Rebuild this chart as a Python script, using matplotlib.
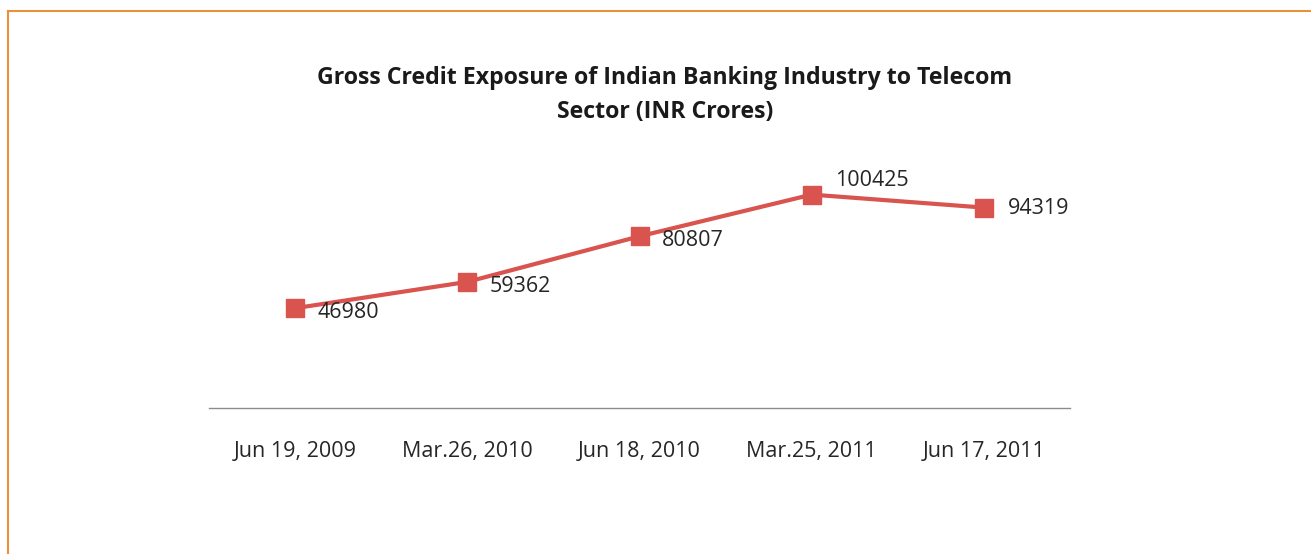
import matplotlib.pyplot as plt
from matplotlib.lines import Line2D

dates = ['Jun 19, 2009', 'Mar.26, 2010', 'Jun 18, 2010', 'Mar.25, 2011', 'Jun 17, 2011']
exposure = [46980, 59362, 80807, 100425, 94319]
# label offsets (points) relative to each marker
label_offsets = [(16, -3), (16, -3), (16, -3), (17, 10), (17, -1)]

plt.rcParams['font.family'] = ['Open Sans', 'DejaVu Sans']

fig = plt.figure(figsize=(13.11, 5.54), dpi=100)
ax = fig.add_axes([0.1594, 0.2635, 0.6568, 0.4603])

line_color = '#D9534F'
x = range(len(dates))
ax.plot(x, exposure, color=line_color, lw=3, marker='s', markersize=12.5, zorder=3)

for i, v in enumerate(exposure):
    ax.annotate(str(v), (i, v), xytext=label_offsets[i], textcoords='offset points',
                ha='left', va='center', fontsize=15.5, color='#262626')

ax.set_xlim(-0.5, len(dates) - 0.5)
ax.set_ylim(0, 120000)
ax.set_xticks(list(x))
ax.set_xticklabels(dates, fontsize=15.5, color='#262626')
ax.tick_params(axis='x', length=0, pad=24)
ax.set_yticks([])
for s in ['top', 'right', 'left']:
    ax.spines[s].set_visible(False)
ax.spines['bottom'].set_color('#8c8c8c')
ax.spines['bottom'].set_linewidth(1)

fig.text(0.507, 0.828, 'Gross Credit Exposure of Indian Banking Industry to Telecom\nSector (INR Crores)',
         ha='center', va='center', fontsize=16.7, fontweight='bold', color='#1a1a1a', linespacing=1.55)

# chart frame (left and top edges visible)
border = '#E8913A'
fig.add_artist(Line2D([8 / 1311, 8 / 1311], [0, 1 - 11 / 554], color=border, lw=1.5))
fig.add_artist(Line2D([8 / 1311, 1], [1 - 11 / 554, 1 - 11 / 554], color=border, lw=1.5))

fig.savefig('out.png', dpi=100)
